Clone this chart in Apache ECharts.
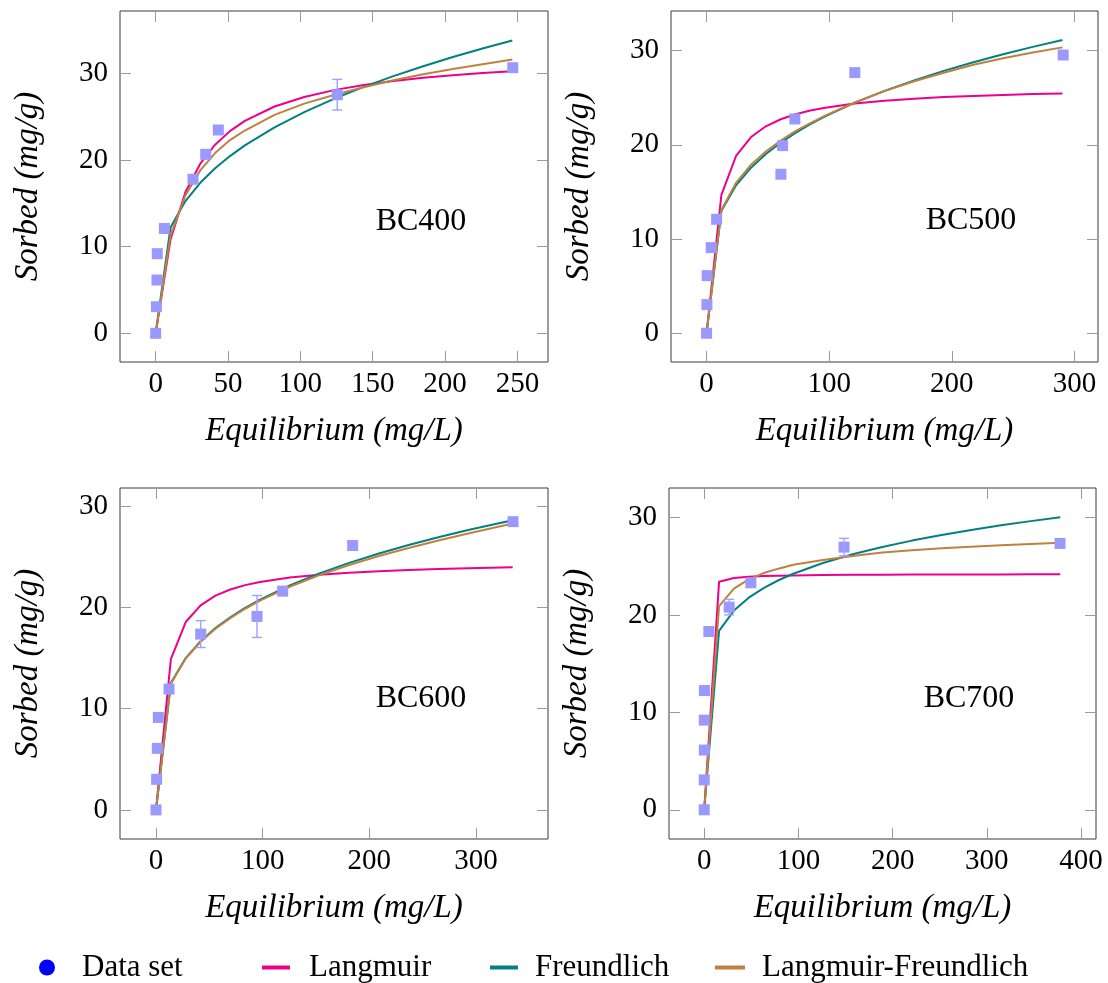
<!DOCTYPE html>
<html>
<head>
<meta charset="utf-8">
<script src="https://cdn.jsdelivr.net/npm/echarts@6/dist/echarts.min.js"></script>
<style>
html,body{margin:0;padding:0;background:#fff;}
#c{width:1108px;height:983px;}
</style>
</head>
<body>
<div id="c"></div>
<script>
// ---------- data ----------
// BC400
const bc400X = [0, 0.5, 0.9, 1.1, 6.0, 25.8, 34.6, 43.3, 125.5, 246.8];
const bc400Y = [0, 3.07, 6.15, 9.19, 12.1, 17.77, 20.65, 23.46, 27.53, 30.65];
const bc400ErrX = [125.5];
const bc400ErrY = [27.53];
const bc400ErrD = [1.77];
const bc400CurveX = [0, 10.27, 20.54, 30.81, 41.08, 51.35, 61.62, 82.16, 102.7, 123.2, 143.8, 164.3, 184.9, 205.4, 225.9, 246.5];
const bc400Lang = [0, 10.83, 16.28, 19.57, 21.76, 23.33, 24.51, 26.17, 27.27, 28.06, 28.65, 29.11, 29.48, 29.78, 30.03, 30.24];
const bc400Freu = [0, 12.22, 15.26, 17.37, 19.05, 20.45, 21.68, 23.77, 25.53, 27.06, 28.44, 29.68, 30.82, 31.88, 32.86, 33.79];
const bc400LF   = [0, 11.3, 15.9, 18.8, 20.8, 22.3, 23.4, 25.2, 26.5, 27.5, 28.4, 29.2, 29.9, 30.5, 31.05, 31.6];
const bc400XTicks = [0, 50, 100, 150, 200, 250];
const bc400YTicks = [0, 10, 20, 30];

// BC500
const bc500X = [0, 0.3, 0.5, 3.8, 8.2, 60.6, 62.0, 72.0, 120.9, 290.8];
const bc500Y = [0, 3.04, 6.12, 9.09, 12.1, 16.88, 19.92, 22.75, 27.67, 29.54];
const bc500ErrX = [];
const bc500ErrY = [];
const bc500ErrD = [];
const bc500CurveX = [0, 12.09, 24.18, 36.27, 48.36, 60.45, 72.54, 84.63, 96.72, 120.9, 145.1, 169.3, 193.4, 217.6, 241.8, 266, 290.2];
const bc500Lang = [0, 14.70, 18.87, 20.83, 21.97, 22.72, 23.25, 23.64, 23.94, 24.38, 24.68, 24.9, 25.07, 25.2, 25.3, 25.39, 25.46];
const bc500Freu = [0, 13.0, 15.73, 17.58, 19.03, 20.23, 21.27, 22.19, 23.02, 24.48, 25.73, 26.85, 27.85, 28.77, 29.61, 30.40, 31.14];
const bc500LF   = [0, 13.1, 16.0, 17.9, 19.3, 20.45, 21.45, 22.3, 23.1, 24.5, 25.7, 26.75, 27.65, 28.5, 29.2, 29.8, 30.35];
const bc500XTicks = [0, 100, 200, 300];
const bc500YTicks = [0, 10, 20, 30];

// BC600
const bc600X = [0, 0.6, 1.25, 2.2, 12.2, 41.9, 94.7, 118.75, 184.4, 334.7];
const bc600Y = [0, 3.02, 6.08, 9.13, 11.93, 17.36, 19.1, 21.6, 26.1, 28.46];
const bc600ErrX = [41.9, 94.7];
const bc600ErrY = [17.36, 19.1];
const bc600ErrD = [1.33, 2.07];
const bc600CurveX = [0, 13.93, 27.86, 41.8, 55.7, 69.65, 83.58, 97.5, 125.4, 153.2, 181.1, 209, 236.8, 264.7, 292.6, 334.4];
const bc600Lang = [0, 14.89, 18.55, 20.2, 21.15, 21.76, 22.19, 22.5, 22.94, 23.22, 23.42, 23.57, 23.69, 23.78, 23.86, 23.95];
const bc600Freu = [0, 12.52, 14.99, 16.66, 17.95, 19.02, 19.95, 20.76, 22.16, 23.35, 24.39, 25.31, 26.15, 26.92, 27.63, 28.6];
const bc600LF   = [0, 12.45, 14.95, 16.6, 17.88, 18.94, 19.86, 20.66, 22.03, 23.18, 24.18, 25.06, 25.86, 26.6, 27.28, 28.27];
const bc600XTicks = [0, 100, 200, 300];
const bc600YTicks = [0, 10, 20, 30];

// BC700
const bc700X = [0, 0, 0.1, 0.1, 0.2, 4.9, 26.5, 49.5, 148.4, 377.7];
const bc700Y = [0, 3.07, 6.13, 9.2, 12.24, 18.3, 20.8, 23.3, 26.96, 27.34];
const bc700ErrX = [26.5, 148.4];
const bc700ErrY = [20.8, 26.96];
const bc700ErrD = [0.8, 0.9];
const bc700CurveX = [0, 15.75, 31.5, 47.25, 63, 78.75, 94.5, 126, 157.5, 189, 220.5, 252, 283.5, 315, 346.5, 378];
const bc700Lang = [0, 23.4, 23.79, 23.93, 23.99, 24.03, 24.06, 24.1, 24.12, 24.13, 24.14, 24.15, 24.16, 24.16, 24.17, 24.17];
const bc700Freu = [0, 18.37, 20.45, 21.77, 22.76, 23.56, 24.23, 25.33, 26.23, 26.97, 27.63, 28.2, 28.72, 29.2, 29.63, 30.03];
const bc700LF   = [0, 20.9, 22.7, 23.65, 24.3, 24.75, 25.15, 25.65, 26.05, 26.4, 26.65, 26.85, 27.0, 27.15, 27.28, 27.4];
const bc700XTicks = [0, 100, 200, 300, 400];
const bc700YTicks = [0, 10, 20, 30];

const panelNames = ['BC400', 'BC500', 'BC600', 'BC700'];
const seriesNames = ['Data set', 'Langmuir', 'Freundlich', 'Langmuir-Freundlich'];
const xTitle = 'Equilibrium (mg/L)';
const yTitle = 'Sorbed (mg/g)';

// ---------- layout / style ----------
const FONT = "'Liberation Serif', 'DejaVu Serif', serif";
const COLORS = { data: '#9999ff', lang: '#ec008c', freu: '#008080', lf: '#bf8040', legendData: '#0000ff' };

const panels = [
  { name: panelNames[0], x: bc400X, y: bc400Y, ex: bc400ErrX, ey: bc400ErrY, ed: bc400ErrD,
    cx: bc400CurveX, lang: bc400Lang, freu: bc400Freu, lf: bc400LF, xt: bc400XTicks, yt: bc400YTicks,
    xr: [-24.65, 271.15], yr: [-3.31, 37.19], grid: { left: 120, top: 11, width: 428, height: 351 }, label: [421, 222] },
  { name: panelNames[1], x: bc500X, y: bc500Y, ex: bc500ErrX, ey: bc500ErrY, ed: bc500ErrD,
    cx: bc500CurveX, lang: bc500Lang, freu: bc500Freu, lf: bc500LF, xt: bc500XTicks, yt: bc500YTicks,
    xr: [-29.0, 319.2], yr: [-3.05, 34.21], grid: { left: 671, top: 11, width: 427, height: 351 }, label: [971, 221] },
  { name: panelNames[2], x: bc600X, y: bc600Y, ex: bc600ErrX, ey: bc600ErrY, ed: bc600ErrD,
    cx: bc600CurveX, lang: bc600Lang, freu: bc600Freu, lf: bc600LF, xt: bc600XTicks, yt: bc600YTicks,
    xr: [-33.75, 367.5], yr: [-2.87, 31.78], grid: { left: 120, top: 488, width: 428, height: 351 }, label: [421, 698.5] },
  { name: panelNames[3], x: bc700X, y: bc700Y, ex: bc700ErrX, ey: bc700ErrY, ed: bc700ErrD,
    cx: bc700CurveX, lang: bc700Lang, freu: bc700Freu, lf: bc700LF, xt: bc700XTicks, yt: bc700YTicks,
    xr: [-37.4, 415.9], yr: [-3.0, 33.03], grid: { left: 669, top: 488, width: 427, height: 351 }, label: [969, 698.5] }
];

function zip(a, b) { return a.map((v, i) => [v, b[i]]); }
function zip3(a, b, c) { return a.map((v, i) => [v, b[i], c[i]]); }

const grids = [], xAxes = [], yAxes = [], series = [], graphics = [];
const tickStyle = { color: '#999999', width: 1 };
const noLine = { show: false, onZero: false };

panels.forEach((p, i) => {
  grids.push(Object.assign({ show: true, borderColor: '#3a3a3a', borderWidth: 1, backgroundColor: 'transparent' }, p.grid));
  // bottom x axis
  xAxes.push({
    type: 'value', gridIndex: i, position: 'bottom', min: p.xr[0], max: p.xr[1],
    axisLine: noLine, splitLine: { show: false },
    axisTick: { show: true, inside: true, length: 11, customValues: p.xt, lineStyle: tickStyle },
    axisLabel: { customValues: p.xt, fontFamily: FONT, fontSize: 29, color: '#000', margin: 8 },
    name: xTitle, nameLocation: 'middle', nameGap: 53,
    nameTextStyle: { fontFamily: FONT, fontSize: 33, fontStyle: 'italic', color: '#000' }
  });
  // top mirror
  xAxes.push({
    type: 'value', gridIndex: i, position: 'top', min: p.xr[0], max: p.xr[1],
    axisLine: noLine, splitLine: { show: false },
    axisTick: { show: true, inside: true, length: 11, customValues: p.xt, lineStyle: tickStyle },
    axisLabel: { show: false, customValues: p.xt }
  });
  // left y axis
  yAxes.push({
    type: 'value', gridIndex: i, position: 'left', min: p.yr[0], max: p.yr[1],
    axisLine: noLine, splitLine: { show: false },
    axisTick: { show: true, inside: true, length: 11, customValues: p.yt, lineStyle: tickStyle },
    axisLabel: { customValues: p.yt, fontFamily: FONT, fontSize: 29, color: '#000', margin: 12 },
    name: yTitle, nameLocation: 'middle', nameGap: 75,
    nameTextStyle: { fontFamily: FONT, fontSize: 33, fontStyle: 'italic', color: '#000' }
  });
  // right mirror
  yAxes.push({
    type: 'value', gridIndex: i, position: 'right', min: p.yr[0], max: p.yr[1],
    axisLine: noLine, splitLine: { show: false },
    axisTick: { show: true, inside: true, length: 11, customValues: p.yt, lineStyle: tickStyle },
    axisLabel: { show: false, customValues: p.yt }
  });

  const xi = 2 * i, yi = 2 * i;
  const lineCommon = { type: 'line', xAxisIndex: xi, yAxisIndex: yi, showSymbol: false, symbol: 'none', smooth: false, z: 2, silent: true, animation: false };
  series.push(Object.assign({ name: seriesNames[1], data: zip(p.cx, p.lang), color: COLORS.lang, lineStyle: { color: COLORS.lang, width: 2 } }, lineCommon));
  series.push(Object.assign({ name: seriesNames[2], data: zip(p.cx, p.freu), color: COLORS.freu, lineStyle: { color: COLORS.freu, width: 2 } }, lineCommon));
  series.push(Object.assign({ name: seriesNames[3], data: zip(p.cx, p.lf), color: COLORS.lf, lineStyle: { color: COLORS.lf, width: 2 } }, lineCommon));

  series.push({
    name: 'err' + i, type: 'custom', xAxisIndex: xi, yAxisIndex: yi, z: 4, silent: true, animation: false,
    data: zip3(p.ex, p.ey, p.ed),
    renderItem: function (params, api) {
      const x = api.value(0), y = api.value(1), d = api.value(2);
      const t = api.coord([x, y + d]);
      const b = api.coord([x, y - d]);
      const w = 5;
      const st = { stroke: '#a0a0ff', lineWidth: 1.4, fill: null };
      return {
        type: 'group', children: [
          { type: 'line', shape: { x1: t[0], y1: t[1], x2: b[0], y2: b[1] }, style: st },
          { type: 'line', shape: { x1: t[0] - w, y1: t[1], x2: t[0] + w, y2: t[1] }, style: st },
          { type: 'line', shape: { x1: b[0] - w, y1: b[1], x2: b[0] + w, y2: b[1] }, style: st }
        ]
      };
    }
  });
  series.push({
    name: seriesNames[0], type: 'scatter', xAxisIndex: xi, yAxisIndex: yi, z: 3, silent: true, animation: false,
    symbol: 'rect', symbolSize: 11, color: COLORS.data,
    itemStyle: { color: COLORS.data, opacity: 1 },
    data: zip(p.x, p.y)
  });

  graphics.push({
    type: 'text', x: p.label[0], y: p.label[1], z: 10,
    style: { text: p.name, font: "32px 'Liberation Serif', serif", fill: '#000', textAlign: 'center', textVerticalAlign: 'middle', align: 'center', verticalAlign: 'middle' }
  });
});

const legendText = { fontFamily: FONT, fontSize: 31, color: '#000' };
const legends = [
  { left: 39, top: 952, itemWidth: 16, itemHeight: 16, data: [{ name: seriesNames[0], icon: 'circle', itemStyle: { color: COLORS.legendData } }], textStyle: Object.assign({ padding: [0, 0, 0, 22] }, legendText) },
  { left: 262, top: 952, itemWidth: 28, itemHeight: 4, data: [{ name: seriesNames[1], icon: 'rect', itemStyle: { color: COLORS.lang } }], textStyle: Object.assign({ padding: [0, 0, 0, 14] }, legendText) },
  { left: 490, top: 952, itemWidth: 28, itemHeight: 4, data: [{ name: seriesNames[2], icon: 'rect', itemStyle: { color: COLORS.freu } }], textStyle: Object.assign({ padding: [0, 0, 0, 12] }, legendText) },
  { left: 715, top: 952, itemWidth: 30, itemHeight: 4, data: [{ name: seriesNames[3], icon: 'rect', itemStyle: { color: COLORS.lf } }], textStyle: Object.assign({ padding: [0, 0, 0, 12] }, legendText) }
];
legends.forEach(l => { l.selectedMode = false; l.padding = 0; l.itemGap = 0; });

const chart = echarts.init(document.getElementById('c'), null, { renderer: 'canvas' });
chart.setOption({
  animation: false,
  backgroundColor: '#ffffff',
  grid: grids,
  xAxis: xAxes,
  yAxis: yAxes,
  legend: legends,
  series: series,
  graphic: graphics
});
</script>
</body>
</html>
